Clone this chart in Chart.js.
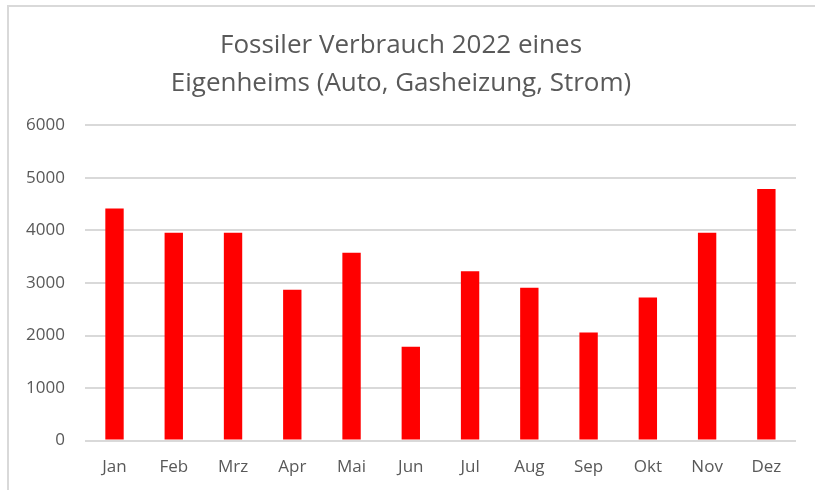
<!DOCTYPE html>
<html lang="de">
<head>
    <meta charset="UTF-8">
    <title>Fossiler Verbrauch 2022</title>
    <script src="https://cdn.jsdelivr.net/npm/chart.js"></script>
    <style>
        html, body { margin: 0; padding: 0; background: #fff; }
        #wrap { width: 815px; height: 490px; position: relative; }
    </style>
</head>
<body>
<div id="wrap"><canvas id="chart"></canvas></div>
<script>
    // Daten
    const monate = ['Jan', 'Feb', 'Mrz', 'Apr', 'Mai', 'Jun', 'Jul', 'Aug', 'Sep', 'Okt', 'Nov', 'Dez'];
    const verbrauch = [4417, 3955, 3955, 2872, 3577, 1788, 3224, 2910, 2058, 2724, 3955, 4788];
    const titel = ['Fossiler Verbrauch 2022 eines', 'Eigenheims (Auto, Gasheizung, Strom)'];

    const grau = '#595959';

    // Rahmen oben/links wie im Original
    const rahmen = {
        id: 'rahmen',
        beforeDraw(chart) {
            const c = chart.ctx;
            c.save();
            c.strokeStyle = '#d9d9d9';
            c.lineWidth = 2;
            c.beginPath();
            c.moveTo(8, 490);
            c.lineTo(8, 6);
            c.lineTo(815, 6);
            c.stroke();
            c.restore();
        }
    };

    new Chart(document.getElementById('chart'), {
        type: 'bar',
        data: {
            labels: monate,
            datasets: [{
                data: verbrauch,
                backgroundColor: '#ff0000',
                categoryPercentage: 1,
                barPercentage: 0.31
            }]
        },
        options: {
            responsive: true,
            maintainAspectRatio: false,
            animation: false,
            layout: { padding: { top: 20, left: 6, right: 19, bottom: 5 } },
            plugins: {
                legend: { display: false },
                tooltip: { enabled: false },
                title: {
                    display: true,
                    text: titel,
                    color: grau,
                    font: { family: 'Open Sans', size: 26, weight: 'normal', lineHeight: 1.45 },
                    padding: { top: 7, bottom: 23 }
                }
            },
            scales: {
                x: {
                    grid: { display: false },
                    border: { display: false },
                    ticks: { color: grau, font: { family: 'Open Sans', size: 17 }, padding: 8 }
                },
                y: {
                    min: 0,
                    max: 6000,
                    ticks: {
                        stepSize: 1000,
                        color: grau,
                        font: { family: 'Open Sans', size: 17 },
                        padding: 20,
                        callback: v => String(v)
                    },
                    grid: { color: '#d9d9d9', lineWidth: 2, drawTicks: false },
                    border: { display: false }
                }
            }
        },
        plugins: [rahmen]
    });
</script>
</body>
</html>
